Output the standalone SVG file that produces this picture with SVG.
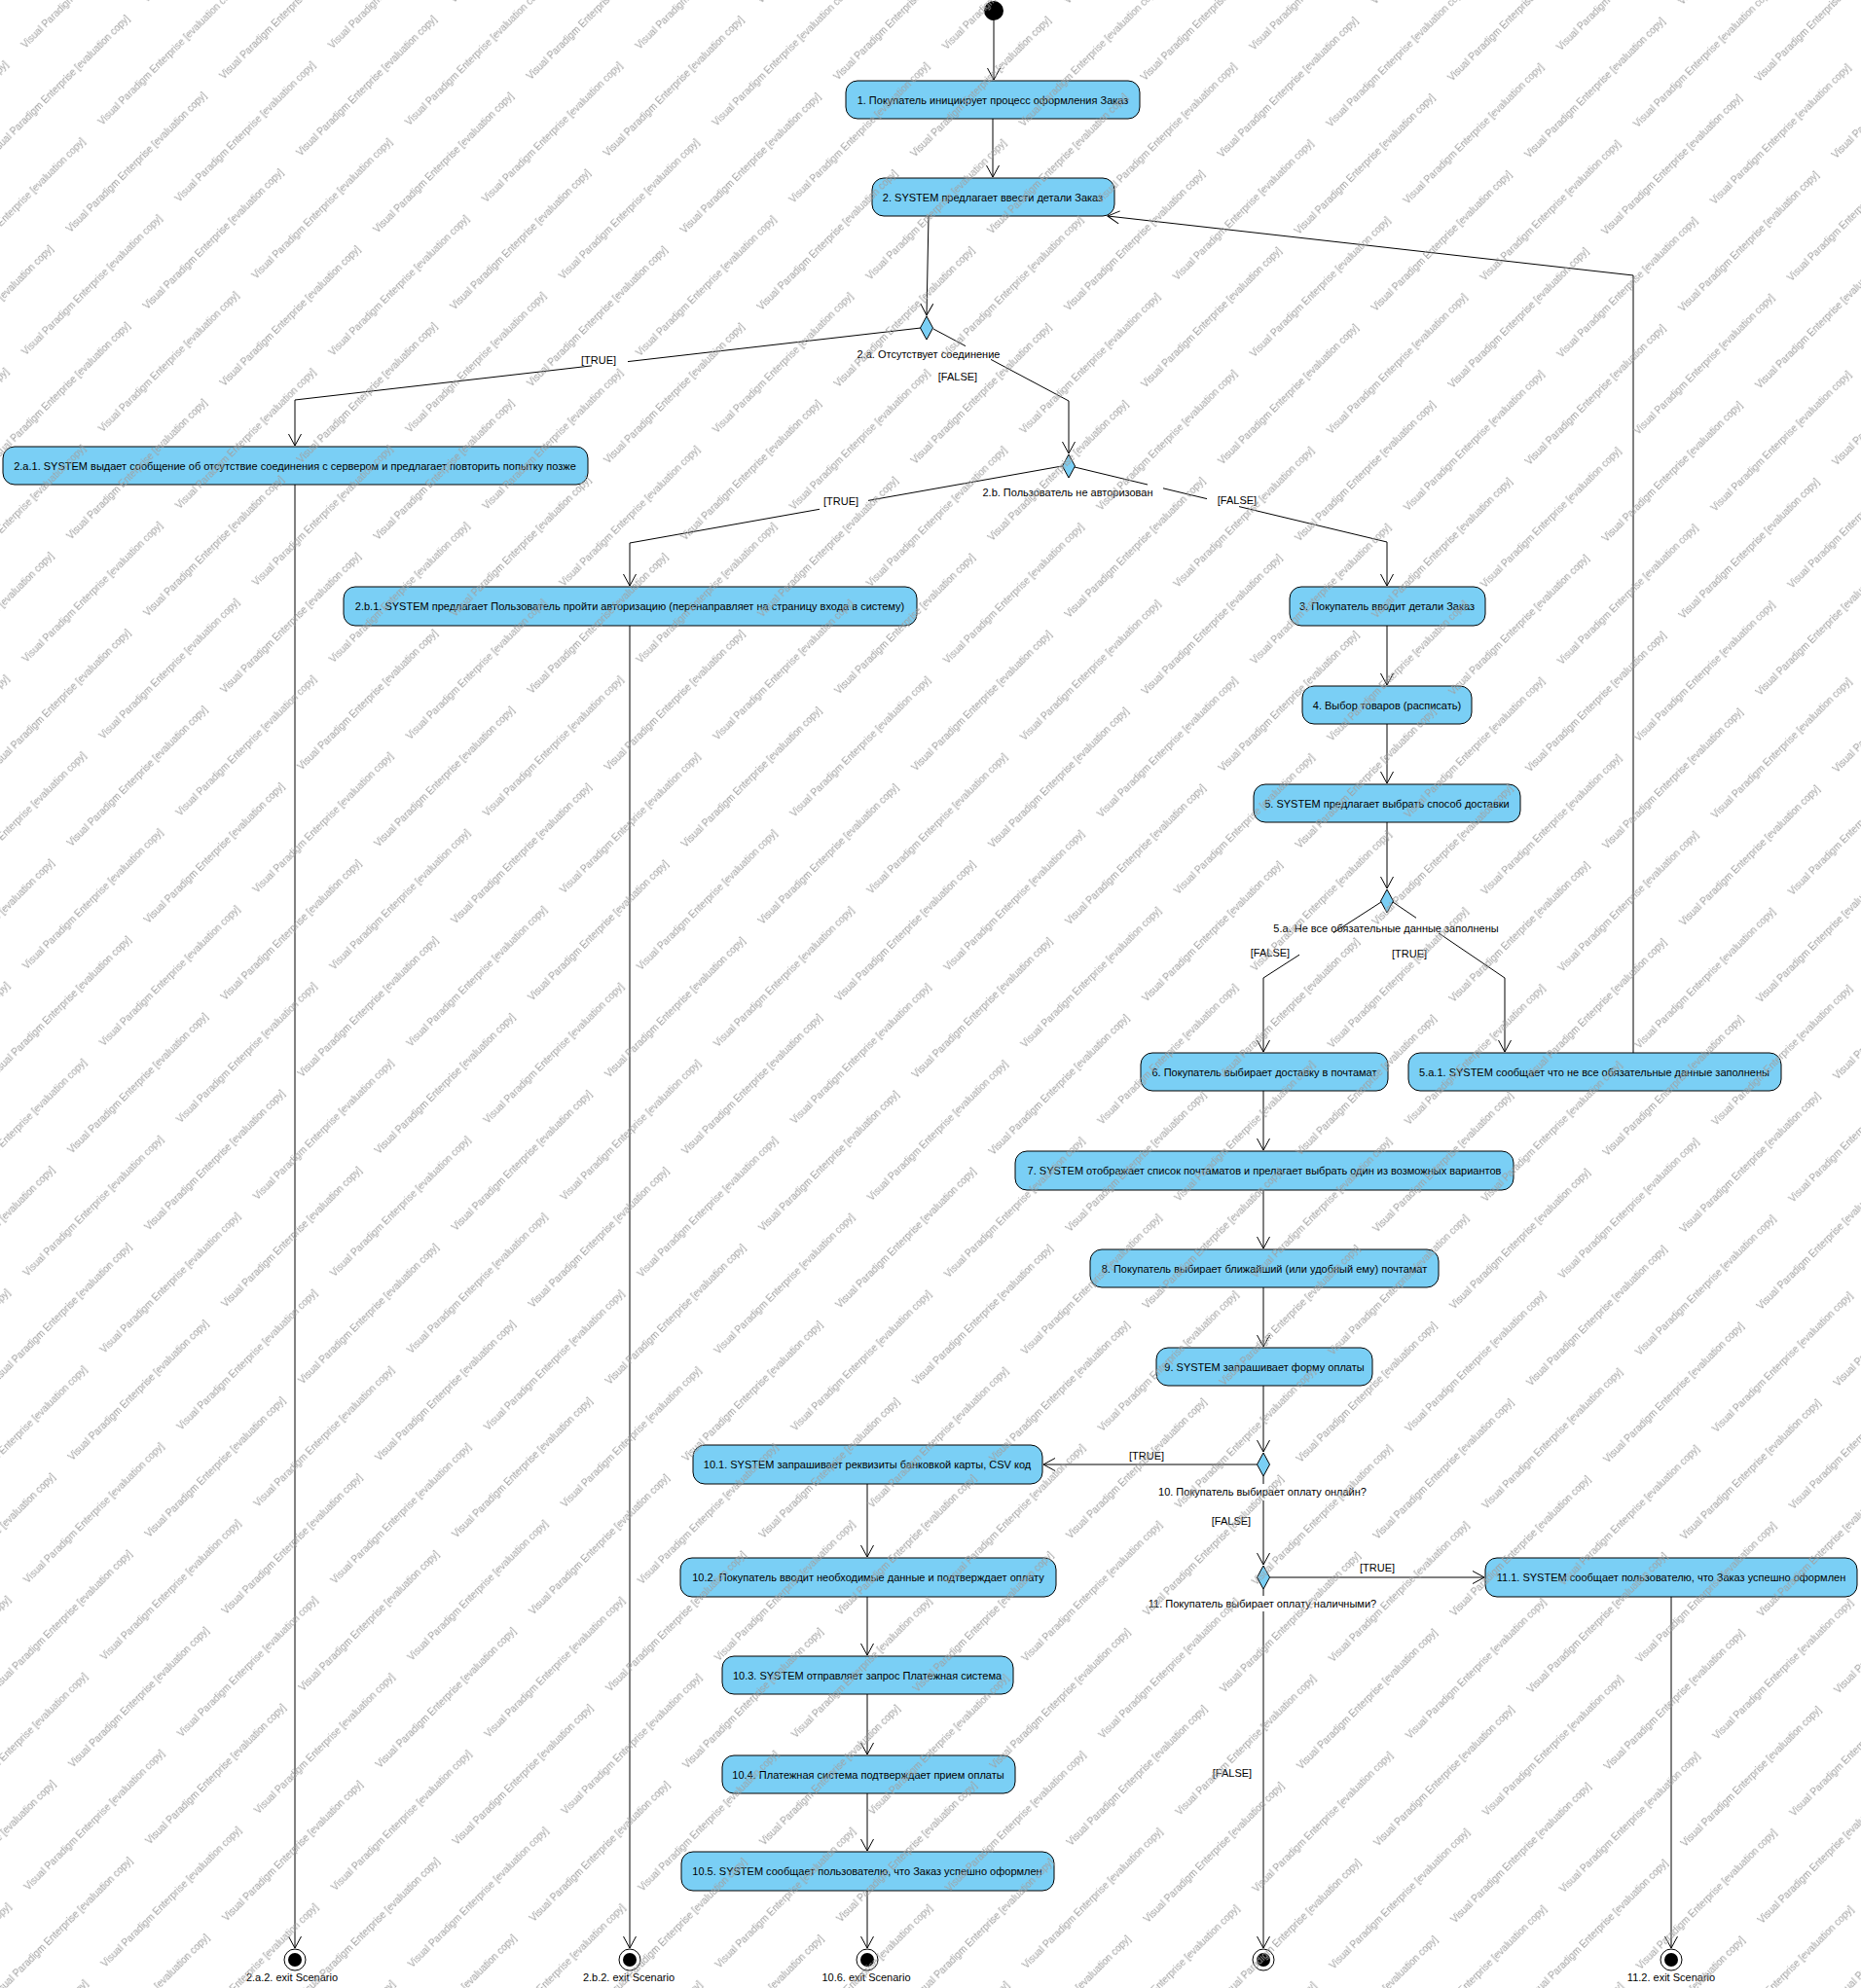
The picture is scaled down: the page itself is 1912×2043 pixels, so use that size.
<svg xmlns="http://www.w3.org/2000/svg" width="1912" height="2043" viewBox="0 0 1912 2043">
<style>
.n{fill:#7ACFF5;stroke:#000;stroke-width:1}
.d{fill:#7ACFF5;stroke:#000;stroke-width:1}
.t{font-family:"Liberation Sans",Arial,sans-serif;font-size:11px;fill:#000;text-anchor:middle}
.c{fill:none;stroke:#000;stroke-width:1}
.a{marker-end:url(#arr)}
.w{font-family:"Liberation Sans",Arial,sans-serif;font-size:10px;fill:#a0a0a0}
</style>
<defs>
<marker id="arr" viewBox="-14 -8 15 16" refX="0" refY="0" markerWidth="15" markerHeight="16" markerUnits="userSpaceOnUse" orient="auto">
<path d="M-12,-6.5 L0,0 L-12,6.5" fill="none" stroke="#000" stroke-width="1"/>
</marker>
<pattern id="wm" patternUnits="userSpaceOnUse" width="222.74" height="111.72" patternTransform="rotate(-45)">
<text class="w" x="205.8" y="53.7">Visual Paradigm Enterprise [evaluation copy]</text>
<text class="w" x="-16.94" y="53.7">Visual Paradigm Enterprise [evaluation copy]</text>
<text class="w" x="104.7" y="108.9">Visual Paradigm Enterprise [evaluation copy]</text>
<text class="w" x="-118.04" y="108.9">Visual Paradigm Enterprise [evaluation copy]</text>
<text class="w" x="104.7" y="-2.82">Visual Paradigm Enterprise [evaluation copy]</text>
<text class="w" x="-118.04" y="-2.82">Visual Paradigm Enterprise [evaluation copy]</text>
</pattern>
</defs>
<rect x="0" y="0" width="1912" height="2043" fill="#fff"/>

<g id="connectors">
<path class="c a" d="M1021,21 L1021,82"/>
<path class="c a" d="M1020,122 L1020,182"/>
<path class="c a" d="M954,222 L952,324"/>
<path class="c a" d="M946,337 L645,371.6 M608,375.9 L303,411 L303,458"/>
<path class="c a" d="M959,338 L992,355.6 M1018,369.4 L1098,412 L1098,466"/>
<path class="c a" d="M1091,479 L892,514.4 M842,523.3 L647,558 L647,602"/>
<path class="c a" d="M1104,480 L1179,498 M1195,501.8 L1240,512.6 M1273,520.6 L1425,557 L1425,602"/>
<path class="c a" d="M303,498 L303,2002"/>
<path class="c a" d="M647,643 L647,2002"/>
<path class="c a" d="M1425,643 L1425,704"/>
<path class="c a" d="M1425,744 L1425,805"/>
<path class="c a" d="M1425,845 L1425,913"/>
<path class="c a" d="M1419,927 L1370,958.6 M1335,981.2 L1298,1005 L1298,1081"/>
<path class="c a" d="M1431,927 L1455,943.3 M1478,958.9 L1546,1005 L1546,1081"/>
<path class="c a" d="M1678,1082 L1678,283 L1138,222"/>
<path class="c a" d="M1298,1121 L1298,1182"/>
<path class="c a" d="M1298,1223 L1298,1283"/>
<path class="c a" d="M1298,1323 L1298,1384"/>
<path class="c a" d="M1298,1424 L1298,1492"/>
<path class="c a" d="M1291.5,1505 L1072,1505"/>
<path class="c a" d="M1298,1517 L1298,1525 M1298,1542 L1298,1608"/>
<path class="c a" d="M1304.5,1621 L1525,1621"/>
<path class="c a" d="M1298,1633 L1298,1640 M1298,1656 L1298,2002"/>
<path class="c a" d="M891,1525 L891,1600"/>
<path class="c a" d="M891,1641 L891,1701"/>
<path class="c a" d="M891,1741 L891,1803"/>
<path class="c a" d="M891,1843 L891,1902"/>
<path class="c a" d="M891,1943 L891,2002"/>
<path class="c a" d="M1717,1641 L1717,2002"/>
</g>

<g id="labels">
<text class="t" x="615" y="374">[TRUE]</text>
<text class="t" x="954" y="368">2.a. Отсутствует соединение</text>
<text class="t" x="984" y="391">[FALSE]</text>
<text class="t" x="1097" y="510">2.b. Пользователь не авторизован</text>
<text class="t" x="864" y="519">[TRUE]</text>
<text class="t" x="1271" y="518">[FALSE]</text>
<text class="t" x="1424" y="958">5.a. Не все обязательные данные заполнены</text>
<text class="t" x="1305" y="983">[FALSE]</text>
<text class="t" x="1448" y="984">[TRUE]</text>
<text class="t" x="1178" y="1500">[TRUE]</text>
<text class="t" x="1297" y="1537">10. Покупатель выбирает оплату онлайн?</text>
<text class="t" x="1265" y="1567">[FALSE]</text>
<text class="t" x="1415" y="1615">[TRUE]</text>
<text class="t" x="1297" y="1652">11. Покупатель выбирает оплату наличными?</text>
<text class="t" x="1266" y="1826">[FALSE]</text>
</g>

<g id="start"><circle cx="1021" cy="11" r="10" fill="#000"/></g>

<g id="n1"><rect class="n" x="869" y="83" width="302" height="39" rx="12"/><text class="t" x="1020" y="106.5">1. Покупатель инициирует процесс оформления Заказ</text></g>
<g id="n2"><rect class="n" x="896" y="183" width="249" height="39" rx="12"/><text class="t" x="1020" y="206.5">2. SYSTEM предлагает ввести детали Заказ</text></g>
<g id="d1"><polygon class="d" points="952,325 958.5,337 952,349 945.5,337"/></g>
<g id="n2a1"><rect class="n" x="3" y="459" width="601" height="39" rx="12"/><text class="t" x="303" y="482.5">2.a.1. SYSTEM выдает сообщение об отсутствие соединения с сервером и предлагает повторить попытку позже</text></g>
<g id="d2"><polygon class="d" points="1098,467 1104.5,479 1098,491 1091.5,479"/></g>
<g id="n2b1"><rect class="n" x="353" y="603" width="589" height="40" rx="12"/><text class="t" x="647" y="627">2.b.1. SYSTEM предлагает Пользователь пройти авторизацию (перенаправляет на страницу входа в систему)</text></g>
<g id="n3"><rect class="n" x="1325" y="603" width="201" height="40" rx="12"/><text class="t" x="1425" y="627">3. Покупатель вводит детали Заказ</text></g>
<g id="n4"><rect class="n" x="1338" y="705" width="174" height="39" rx="12"/><text class="t" x="1425" y="728.5">4. Выбор товаров (расписать)</text></g>
<g id="n5"><rect class="n" x="1288" y="806" width="274" height="39" rx="12"/><text class="t" x="1425" y="829.5">5. SYSTEM предлагает выбрать способ доставки</text></g>
<g id="d3"><polygon class="d" points="1425,914 1431.5,926 1425,938 1418.5,926"/></g>
<g id="n6"><rect class="n" x="1172" y="1082" width="254" height="39" rx="12"/><text class="t" x="1299" y="1105.5">6. Покупатель выбирает доставку в почтамат</text></g>
<g id="n5a1"><rect class="n" x="1447" y="1082" width="383" height="39" rx="12"/><text class="t" x="1638" y="1105.5">5.a.1. SYSTEM сообщает что не все обязательные данные заполнены</text></g>
<g id="n7"><rect class="n" x="1043" y="1183" width="512" height="40" rx="12"/><text class="t" x="1299" y="1207">7. SYSTEM отображает список почтаматов и прелагает выбрать один из возможных вариантов</text></g>
<g id="n8"><rect class="n" x="1120" y="1284" width="358" height="39" rx="12"/><text class="t" x="1299" y="1307.5">8. Покупатель выбирает ближайший (или удобный ему) почтамат</text></g>
<g id="n9"><rect class="n" x="1188" y="1385" width="222" height="39" rx="12"/><text class="t" x="1299" y="1408.5">9. SYSTEM запрашивает форму оплаты</text></g>
<g id="d4"><polygon class="d" points="1298,1493 1304.5,1505 1298,1517 1291.5,1505"/></g>
<g id="n101"><rect class="n" x="712" y="1485" width="359" height="40" rx="12"/><text class="t" x="891" y="1509">10.1. SYSTEM запрашивает реквизиты банковкой карты, CSV код</text></g>
<g id="d5"><polygon class="d" points="1298,1609 1304.5,1621 1298,1633 1291.5,1621"/></g>
<g id="n102"><rect class="n" x="699" y="1601" width="386" height="40" rx="12"/><text class="t" x="892" y="1625">10.2. Покупатель вводит необходимые данные и подтверждает оплату</text></g>
<g id="n111"><rect class="n" x="1526" y="1601" width="382" height="40" rx="12"/><text class="t" x="1717" y="1625">11.1. SYSTEM сообщает пользователю, что Заказ успешно оформлен</text></g>
<g id="n103"><rect class="n" x="742" y="1702" width="299" height="39" rx="12"/><text class="t" x="891" y="1725.5">10.3. SYSTEM отправляет запрос Платежная система</text></g>
<g id="n104"><rect class="n" x="742" y="1804" width="301" height="39" rx="12"/><text class="t" x="892" y="1827.5">10.4. Платежная система подтверждает прием оплаты</text></g>
<g id="n105"><rect class="n" x="700" y="1903" width="383" height="40" rx="12"/><text class="t" x="891" y="1927">10.5. SYSTEM сообщает пользователю, что Заказ успешно оформлен</text></g>

<g id="f1"><circle cx="303" cy="2014" r="11" fill="#fff" stroke="#000"/><circle cx="303" cy="2014" r="7" fill="#000"/><text class="t" x="300" y="2036">2.a.2. exit Scenario</text></g>
<g id="f2"><circle cx="647" cy="2014" r="11" fill="#fff" stroke="#000"/><circle cx="647" cy="2014" r="7" fill="#000"/><text class="t" x="646" y="2036">2.b.2. exit Scenario</text></g>
<g id="f3"><circle cx="891" cy="2014" r="11" fill="#fff" stroke="#000"/><circle cx="891" cy="2014" r="7" fill="#000"/><text class="t" x="890" y="2036">10.6. exit Scenario</text></g>
<g id="f4"><circle cx="1298" cy="2014" r="11" fill="#fff" stroke="#000"/><circle cx="1298" cy="2014" r="7" fill="#000"/></g>
<g id="f5"><circle cx="1717" cy="2014" r="11" fill="#fff" stroke="#000"/><circle cx="1717" cy="2014" r="7" fill="#000"/><text class="t" x="1717" y="2036">11.2. exit Scenario</text></g>

<rect id="watermark" x="0" y="0" width="1912" height="2043" fill="url(#wm)" pointer-events="none"/>
</svg>
